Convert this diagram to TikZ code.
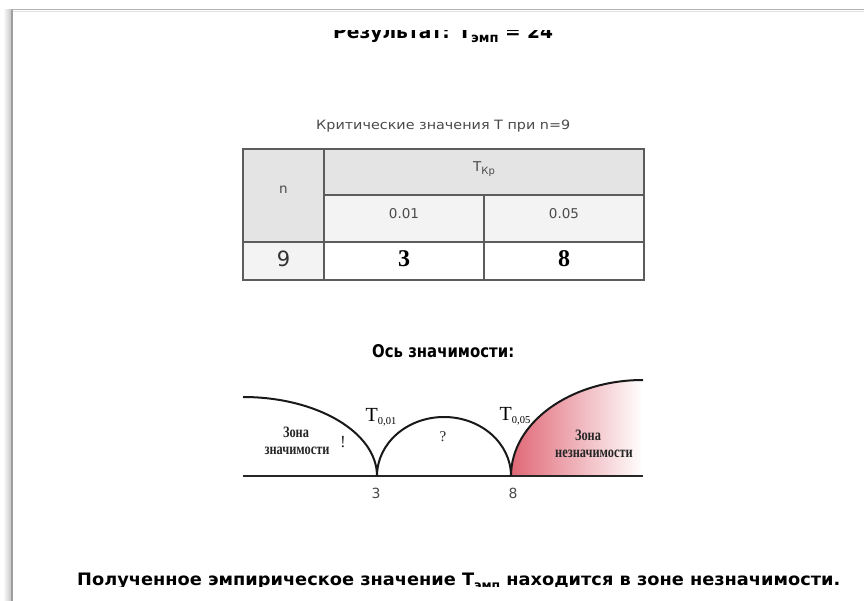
\documentclass[tikz,border=0pt]{standalone}
\usepackage{fontspec}
\setmainfont{Liberation Serif}
\newfontfamily\vsans{DejaVu Sans}
\usepackage{graphicx}
\usetikzlibrary{calc}

\definecolor{rulegrey}{HTML}{5C5C5C}
\definecolor{headgrey}{HTML}{E4E4E4}
\definecolor{lightgrey}{HTML}{F3F3F3}
\definecolor{txtgrey}{HTML}{4A4A4A}
\definecolor{zonered}{RGB}{224,104,118}

% small lowered index for the T labels on the axis
\newcommand{\lowidx}[1]{{\fontsize{10.5}{10.5}\selectfont\raisebox{-3.5pt}{#1}}}
% lowered index inside the resized text lines
\newcommand{\lineidx}[2]{{\fontsize{7}{7}\selectfont\raisebox{#1}{#2}}}
% narrow, tall lettering of the zone captions
\newcommand{\tall}[1]{\scalebox{0.95}[1.22]{#1}}

\begin{document}
\begin{tikzpicture}[x=1pt,y=-1pt,
  cellbox/.style={draw=rulegrey,line width=1.6pt,inner sep=0pt},
  tabtxt/.style={font=\vsans\fontsize{13.5}{13.5}\selectfont,text=txtgrey,inner sep=0pt},
  bigdigit/.style={font=\bfseries\fontsize{24}{24}\selectfont,text=black,inner sep=0pt},
  zonetxt/.style={font=\bfseries\fontsize{13}{13}\selectfont,text=black!85,inner sep=0pt,anchor=base},
  axisnum/.style={font=\vsans\fontsize{14}{14}\selectfont,text=txtgrey,inner sep=0pt,anchor=base},
  curve/.style={line width=2pt,black!90},
  flat/.style={inner sep=0pt,anchor=base west}]

\useasboundingbox (0,0) rectangle (864,601);
\fill[white] (0,0) rectangle (864,601);

% page edge with its soft shadow
\shade[left color=white,right color=black!22] (3,10) rectangle (11,601);
\draw[black!38,line width=1.6pt] (11.8,9.5) -- (11.8,601);
\draw[black!30,line width=1pt] (11,9.8) -- (864,9.8);
\draw[black!12,line width=1pt] (12.6,11.6) -- (864,11.6);

% heading, cut by the upper edge of the view
\begin{scope}
  \clip (0,31) rectangle (864,601);
  \node[flat] (result) at (333,38.5)
    {\resizebox{220pt}{14pt}{\vsans\bfseries Результат: Т\lineidx{-2pt}{эмп} = 24}};
\end{scope}

% table caption
\node[flat,text=txtgrey] (caption) at (316,130)
  {\resizebox{254pt}{9.5pt}{\vsans Критические значения Т при n=9}};

% table cells
\node[cellbox,fill=headgrey,minimum width=81pt,minimum height=93pt] (cn) at (283.5,195.5) {};
\node[cellbox,fill=headgrey,minimum width=320pt,minimum height=46pt] (ckr) at (484,172) {};
\node[cellbox,fill=lightgrey,minimum width=160pt,minimum height=47pt] (ca) at (404,218.5) {};
\node[cellbox,fill=lightgrey,minimum width=160pt,minimum height=47pt] (cb) at (564,218.5) {};
\node[cellbox,fill=lightgrey,minimum width=81pt,minimum height=38pt] (c9) at (283.5,261) {};
\node[cellbox,fill=white,minimum width=160pt,minimum height=38pt] (c3) at (404,261) {};
\node[cellbox,fill=white,minimum width=160pt,minimum height=38pt] (c8) at (564,261) {};

% table texts
\node[tabtxt] (tn) at ([yshift=6pt]cn.center) {n};
\node[tabtxt] (tkr) at ([yshift=3pt]ckr.center) {Т{\fontsize{10}{10}\selectfont\raisebox{-2.5pt}{Кр}}};
\node[tabtxt] (ta) at ([yshift=5pt]ca.center) {0.01};
\node[tabtxt] (tb) at ([yshift=5pt]cb.center) {0.05};
\node[tabtxt,font=\vsans\fontsize{21}{21}\selectfont,text=black!80] (t9) at ([yshift=2pt]c9.center) {9};
\node[bigdigit] (t3) at ([yshift=2pt]c3.center) {3};
\node[bigdigit] (t8) at ([yshift=2pt]c8.center) {8};

% axis heading
\node[flat] (axhead) at (372,357)
  {\resizebox{142pt}{13pt}{\vsans\bfseries Ось значимости:}};

% significance axis
\coordinate (left) at (243,476);
\coordinate (p3) at (377,476);
\coordinate (p8) at (511,476);
\coordinate (right) at (643,476);

\shade[left color=zonered,right color=white]
  (p8) .. controls (511,423) and (570,380) .. (643,380) -- (right) -- cycle;
\draw[line width=2.6pt,black!85] (left) -- (right);

\draw[curve] (243,397) .. controls (317,397) and (377,432.4) .. (p3);
\draw[curve] (p3) .. controls (377,443.4) and (407,417) .. (444,417)
                  .. controls (481,417) and (511,443.4) .. (p8);
\draw[curve] (p8) .. controls (511,423) and (570,380) .. (643,380);

% axis labels
\node[inner sep=0pt,anchor=base,font=\fontsize{20}{20}\selectfont] (t001) at (381,421) {T\lowidx{0,01}};
\node[inner sep=0pt,anchor=base,font=\fontsize{20}{20}\selectfont] (t005) at (515,420) {T\lowidx{0,05}};
\node[zonetxt] (zl1) at (296,437) {\tall{Зона}};
\node[zonetxt] (zl2) at (297,454) {\tall{значимости}};
\node[zonetxt,font=\fontsize{17}{17}\selectfont] (excl) at (343,447) {!};
\node[zonetxt,font=\fontsize{15}{15}\selectfont] (quest) at (443,441) {?};
\node[zonetxt] (zr1) at (588,440) {\tall{Зона}};
\node[zonetxt] (zr2) at (594,457) {\tall{незначимости}};
\node[axisnum] (n3) at (376,498) {3};
\node[axisnum] (n8) at (513,498) {8};

% conclusion, cut by the lower edge of the view
\begin{scope}
  \clip (0,0) rectangle (864,586.5);
  \node[flat] (concl) at (77,585.5)
    {\resizebox{763pt}{12.5pt}{\vsans\bfseries Полученное эмпирическое значение Т\lineidx{-2.5pt}{эмп} находится в зоне незначимости.}};
\end{scope}
\end{tikzpicture}
\end{document}
